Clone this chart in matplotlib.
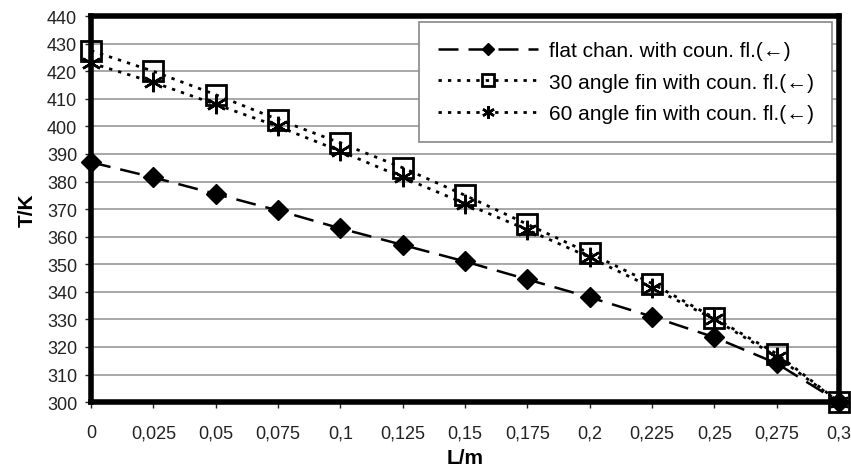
import matplotlib
matplotlib.use("Agg")
import matplotlib.pyplot as plt
from matplotlib.ticker import FixedLocator

plt.rcParams['font.family'] = ['Liberation Sans', 'DejaVu Sans']

L = [0, 0.025, 0.05, 0.075, 0.1, 0.125, 0.15, 0.175, 0.2, 0.225, 0.25, 0.275, 0.3]
flat = [387, 381.5, 375.5, 369.5, 363, 357, 351, 344.5, 338, 331, 323.5, 314, 300]
fin30 = [427.5, 420, 411.5, 402.5, 394, 385, 375, 364.5, 354, 343, 330.5, 317.5, 300]
fin60 = [423, 416, 408, 400, 391, 381.5, 372, 362.5, 352.5, 341.5, 330, 316.5, 300]
labels = ["flat chan. with coun. fl.(\u2190)",
          "30 angle fin with coun. fl.(\u2190)",
          "60 angle fin with coun. fl.(\u2190)"]
xtick_labels = ["0", "0,025", "0,05", "0,075", "0,1", "0,125", "0,15", "0,175",
                "0,2", "0,225", "0,25", "0,275", "0,3"]
yticks = list(range(300, 441, 10))

fig = plt.figure(figsize=(8.51, 4.77), dpi=100)
ax = fig.add_axes([0.107, 0.155, 0.879, 0.809])

ax.plot(L, flat, color='black', lw=1.8, dashes=(8, 4), marker='D', ms=10,
        markerfacecolor='black', markeredgecolor='black', clip_on=False, zorder=3,
        label=labels[0])
ax.plot(L, fin30, color='black', lw=2, dashes=(1.2, 2.2), marker='s', ms=14,
        markerfacecolor='none', markeredgecolor='black', markeredgewidth=2,
        clip_on=False, zorder=3, label=labels[1])
ax.plot(L, fin60, color='black', lw=2, dashes=(1.2, 2.2), marker=(6, 2, 0), ms=14,
        markeredgecolor='black', markeredgewidth=1.8, clip_on=False, zorder=3,
        label=labels[2])

ax.set_xlim(0, 0.3)
ax.set_ylim(300, 440)
ax.xaxis.set_major_locator(FixedLocator(L))
ax.set_xticklabels(xtick_labels)
ax.set_yticks(yticks)
ax.yaxis.grid(True, color='#a0a0a0', lw=1.3)
ax.set_axisbelow(True)
for s in ax.spines.values():
    s.set_linewidth(4)
    s.set_color('black')
ax.tick_params(axis='both', labelsize=13, colors='#222222', length=4, width=1)
ax.tick_params(axis='x', pad=12)
ax.tick_params(axis='y', pad=6)
ax.set_xlabel("L/m", fontsize=15, fontweight='bold', labelpad=5)
ax.set_ylabel("T/K", fontsize=15, fontweight='bold', labelpad=7)

leg = ax.legend(loc='upper right', bbox_to_anchor=(0.991, 0.984), borderaxespad=0,
                fontsize=15, frameon=True, fancybox=False, edgecolor='#888888',
                framealpha=1, handlelength=4.8, handletextpad=0.5, borderpad=0.9,
                labelspacing=0.6, markerscale=0.65)
leg.get_frame().set_linewidth(1.2)

fig.savefig("out.png", dpi=100)
